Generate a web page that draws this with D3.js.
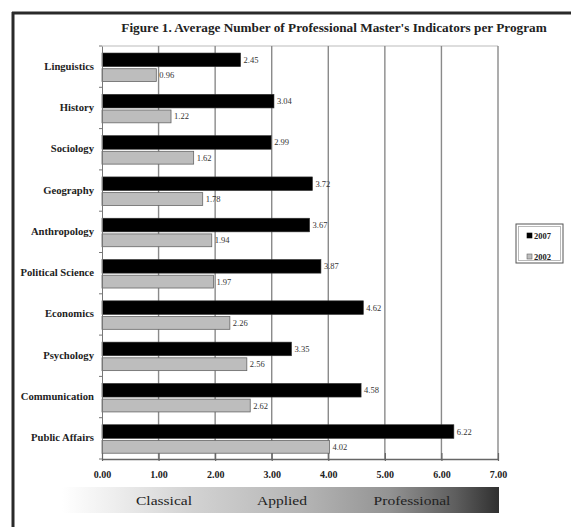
<!DOCTYPE html>
<html><head><meta charset="utf-8">
<script src="https://cdn.jsdelivr.net/npm/d3@7"></script>
<style>body{margin:0;background:#fff}svg{display:block}text{font-family:"Liberation Serif","DejaVu Serif",serif}</style>
</head><body>
<script>
const title = "Figure 1. Average Number of Professional Master's Indicators per Program";
const categories = ["Linguistics","History","Sociology","Geography","Anthropology","Political Science","Economics","Psychology","Communication","Public Affairs"];
const series2007 = [2.45,3.04,2.99,3.72,3.67,3.87,4.62,3.35,4.58,6.22];
const series2002 = [0.96,1.22,1.62,1.78,1.94,1.97,2.26,2.56,2.62,4.02];
const seriesNames = ["2007","2002"];
const xTicks = [0,1,2,3,4,5,6,7];
const scaleLabels = ["Classical","Applied","Professional"];

function stretch(sel,f){
  sel.each(function(){
    const L=this.getComputedTextLength();
    d3.select(this).attr("textLength",L*f).attr("lengthAdjust","spacingAndGlyphs");
  });
}

const W=571,H=527;
const svg=d3.select("body").append("svg").attr("width",W).attr("height",H);
svg.append("rect").attr("width",W).attr("height",H).attr("fill","#fff");
// frame
svg.append("line").attr("x1",13).attr("x2",13).attr("y1",12).attr("y2",H).attr("stroke","#2a2a2a").attr("stroke-width",3);
svg.append("line").attr("x1",12).attr("x2",W).attr("y1",13).attr("y2",13).attr("stroke","#2a2a2a").attr("stroke-width",3);

svg.append("text").attr("x",334).attr("y",31.5).attr("text-anchor","middle").attr("font-size",11.5).attr("font-weight","bold").attr("fill","#222").text(title).call(stretch,1.15);

const pLeft=102,pRight=498,pTop=46,pBottom=459;
const x=d3.scaleLinear().domain([0,7]).range([pLeft,pRight]);
const y=d3.scaleBand().domain(categories).range([pTop,pBottom]);

// plot border top
svg.append("line").attr("x1",pLeft).attr("x2",pRight).attr("y1",pTop).attr("y2",pTop).attr("stroke","#bbb");
// gridlines
svg.append("g").selectAll("line").data(xTicks.slice(1)).join("line")
 .attr("x1",d=>x(d)).attr("x2",d=>x(d)).attr("y1",pTop).attr("y2",pBottom)
 .attr("stroke","#8a8a8a").attr("stroke-width",1.4);

const bw = y.bandwidth();
const g=svg.append("g");
categories.forEach((c,i)=>{
  const y0=y(c);
  g.append("rect").attr("x",x(0)).attr("y",y0+bw*0.17).attr("width",x(series2007[i])-x(0)).attr("height",bw*0.33).attr("fill","#000").attr("stroke","#333").attr("stroke-width",0.6);
  g.append("rect").attr("x",x(0)).attr("y",y0+bw*0.55).attr("width",x(series2002[i])-x(0)).attr("height",bw*0.31).attr("fill","#bdbdbd").attr("stroke","#666").attr("stroke-width",0.8);
  g.append("text").attr("x",x(series2007[i])+3).attr("y",y0+bw*0.17+bw*0.165+3).attr("font-size",8.5).attr("fill","#333").text(series2007[i].toFixed(2));
  g.append("text").attr("x",x(series2002[i])+3).attr("y",y0+bw*0.55+bw*0.155+3).attr("font-size",8.5).attr("fill","#333").text(series2002[i].toFixed(2));
});

// y axis
const ya=svg.append("g").attr("transform",`translate(${pLeft},0)`).call(d3.axisLeft(y).tickSize(0).tickPadding(8));
ya.select(".domain").attr("stroke","#777");
ya.selectAll("text").attr("font-size",9.5).attr("font-weight","bold").attr("fill","#222").attr("font-family","Liberation Serif").call(stretch,1.12);
svg.append("g").selectAll("line").data(d3.range(categories.length+1)).join("line")
 .attr("x1",pLeft-3).attr("x2",pLeft).attr("y1",d=>pTop+d*bw).attr("y2",d=>pTop+d*bw).attr("stroke","#777");

// x axis
const xa=svg.append("g").attr("transform",`translate(0,${pBottom})`).call(d3.axisBottom(x).tickValues(xTicks).tickFormat(d3.format(".2f")).tickSizeInner(-6).tickSizeOuter(0).tickPadding(12));
xa.select(".domain").attr("stroke","#666").attr("stroke-width",1.5);
xa.selectAll(".tick line").attr("stroke","#666").attr("stroke-width",1.2).attr("y2",-6).attr("y1",2);
xa.selectAll("text").attr("font-size",10).attr("font-weight","bold").attr("fill","#222").attr("font-family","Liberation Serif");

// legend
const lg=svg.append("g");
lg.append("rect").attr("x",516).attr("y",224).attr("width",47).attr("height",39).attr("fill","#fff").attr("stroke","#555").attr("stroke-width",1);
lg.append("rect").attr("x",518.5).attr("y",226.5).attr("width",42).attr("height",34).attr("fill","none").attr("stroke","#aaa").attr("stroke-width",0.8);
[["#000","#000"],["#bdbdbd","#666"]].forEach((c,i)=>{
  lg.append("rect").attr("x",527).attr("y",233+i*21).attr("width",5).attr("height",5).attr("fill",c[0]).attr("stroke",c[1]).attr("stroke-width",0.6);
  lg.append("text").attr("x",534).attr("y",239+i*21).attr("font-size",8.5).attr("font-weight","bold").attr("fill","#222").text(seriesNames[i]);
});

// gradient scale
const defs=svg.append("defs");
const grad=defs.append("linearGradient").attr("id","gr").attr("x1","0%").attr("x2","100%");
[[0,"#ffffff"],[0.12,"#eeeeee"],[0.3,"#d2d2d2"],[0.55,"#b5b5b5"],[0.75,"#939393"],[0.9,"#5e5e5e"],[1,"#303030"]]
 .forEach(s=>grad.append("stop").attr("offset",s[0]).attr("stop-color",s[1]));
const gx0=62,gx1=499;
svg.append("rect").attr("x",gx0).attr("y",487).attr("width",gx1-gx0).attr("height",26).attr("fill","url(#gr)");
svg.append("g").selectAll("text").data(scaleLabels).join("text")
  .attr("x",(d,i)=>[164,282,412][i]).attr("y",505).attr("text-anchor","middle").attr("font-size",13.5).attr("fill","#222").text(d=>d).call(stretch,1.15);
</script>
</body></html>
